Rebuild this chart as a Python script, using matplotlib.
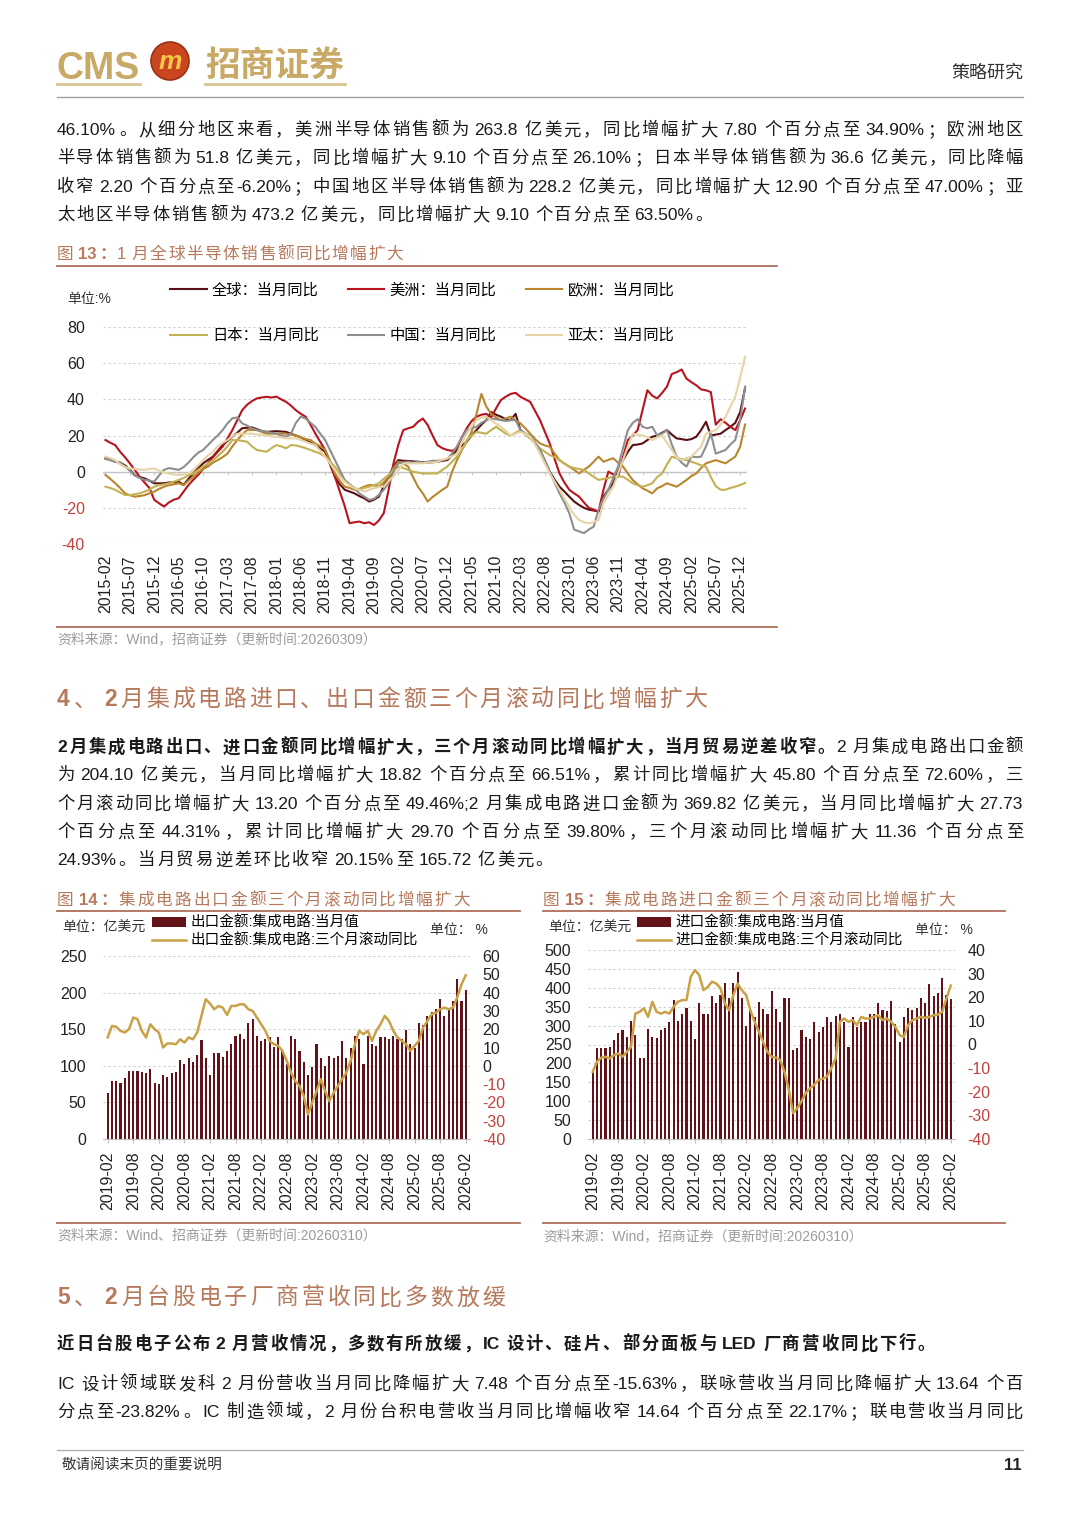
import matplotlib
matplotlib.use("Agg")
import matplotlib.pyplot as plt
import pandas as pd
from matplotlib.patches import Circle

FAM = ["Liberation Sans", "Noto Sans CJK SC", "DejaVu Sans"]
plt.rcParams["font.family"] = FAM
plt.rcParams["axes.unicode_minus"] = False

# ---------------- data: fig 13 (monthly, 2015-02 .. 2026-01) ----------------
months13 = pd.period_range("2015-02", periods=132, freq="M").strftime("%Y-%m").tolist()

glob = [7.4, 6.5, 5.5, 5.0, 3.5, 1.0, -2.0, -3.0, -3.7, -5.0, -6.4, -6.5,
        -6.4, -6.0, -5.8, -5.5, -7.4, -4.0, -0.9, 2.0, 4.6, 6.5, 8.3, 11.5,
        14.7, 17.0, 19.3, 21.5, 24.0, 24.3, 24.5, 23.5, 22.5, 22.0, 22.2, 22.4,
        22.2, 22.0, 21.0, 20.0, 19.0, 17.5, 16.0, 14.7, 13.0, 11.0, 4.0, -2.8,
        -7.0, -10.0, -11.0, -12.0, -13.5, -14.7, -16.5, -15.5, -13.8, -8.0, -2.8, 3.0,
        6.4, 6.0, 5.9, 5.7, 5.5, 5.2, 5.0, 5.2, 5.5, 6.0, 6.4, 9.0,
        12.0, 14.5, 16.6, 20.0, 23.0, 26.0, 28.5, 33.0, 31.5, 30.4, 29.0, 28.5,
        32.0, 23.0, 21.0, 19.3, 15.5, 12.0, 6.0, 0.0, -4.5, -8.3, -11.0, -13.8,
        -16.5, -18.4, -20.0, -21.0, -21.5, -22.0, -13.8, -10.0, -6.4, 0.0, 6.4, 11.0,
        14.7, 15.0, 15.6, 17.5, 19.3, 20.0, 21.5, 23.0, 20.5, 18.4, 18.0, 17.5,
        18.0, 19.3, 23.0, 27.6, 20.0, 20.5, 21.0, 23.0, 24.8, 27.0, 33.0, 46.1]

americas = [17.5, 16.0, 14.7, 11.0, 8.0, 4.6, 1.0, -2.8, -6.0, -9.0, -15.6, -17.5,
            -19.3, -17.0, -15.5, -14.7, -11.0, -7.4, -4.5, -1.8, 1.5, 4.6, 8.0, 11.0,
            13.8, 18.5, 23.0, 28.5, 34.0, 37.0, 39.0, 40.5, 41.0, 41.4, 41.0, 41.5,
            40.0, 38.6, 36.5, 34.0, 32.0, 30.4, 26.0, 21.0, 16.5, 12.0, 5.0, -2.8,
            -11.0, -19.0, -28.5, -28.0, -27.6, -28.5, -28.0, -29.5, -27.0, -23.0, -10.0, 4.6,
            15.0, 23.0, 24.0, 24.8, 27.5, 29.4, 25.8, 20.0, 14.7, 13.0, 12.0, 11.5,
            12.9, 19.0, 24.0, 28.0, 30.4, 31.5, 32.0, 30.0, 35.0, 39.6, 41.5, 43.0,
            43.6, 41.4, 40.0, 38.6, 33.5, 28.5, 22.0, 15.6, 7.0, -1.0, -6.0, -10.0,
            -12.0, -13.8, -17.0, -20.0, -21.0, -22.0, -10.0, 0.0, -1.5, -2.8, 8.0, 17.5,
            20.0, 23.0, 34.0, 45.0, 42.0, 40.5, 43.5, 47.0, 54.0, 55.0, 56.5, 51.5,
            49.5, 47.8, 45.5, 45.0, 44.0, 26.0, 29.0, 27.0, 24.8, 23.0, 28.5, 34.9]

europe = [-1.8, -4.0, -6.4, -9.0, -12.0, -13.0, -13.8, -13.5, -13.0, -12.0, -11.0, -9.5,
          -8.3, -7.5, -7.0, -6.4, -7.4, -5.0, -2.8, -0.5, 1.5, 2.8, 5.0, 6.4,
          8.0, 10.0, 14.0, 17.5, 20.5, 23.0, 23.0, 23.0, 22.0, 21.0, 21.0, 21.0,
          21.0, 21.0, 20.5, 20.0, 19.0, 18.0, 17.5, 15.5, 14.0, 12.0, 6.0, -1.0,
          -5.0, -8.3, -9.0, -10.0, -9.5, -8.3, -7.4, -7.5, -8.3, -6.0, -2.8, 2.0,
          5.5, 4.5, 2.8, -3.0, -8.3, -12.0, -16.5, -14.0, -12.0, -10.0, -8.3, 0.0,
          6.4, 12.0, 16.6, 22.0, 32.0, 43.0, 36.0, 32.0, 30.0, 28.5, 29.5, 30.4,
          28.5, 26.7, 24.0, 21.0, 18.0, 15.6, 14.5, 13.8, 10.0, 6.4, 4.5, 2.8,
          1.0, -1.0, 1.0, 2.8, 5.5, 8.3, 5.5, 6.5, 7.4, 5.0, 2.8, -1.0,
          -4.6, -7.0, -9.2, -10.5, -12.0, -9.2, -8.0, -6.4, -7.4, -8.3, -6.5, -4.6,
          -2.5, -1.0, 2.0, 4.6, 5.5, 6.4, 5.5, 4.6, 6.5, 8.3, 13.8, 26.1]

japan = [-8.3, -9.0, -10.0, -11.5, -12.9, -13.0, -12.5, -12.0, -11.0, -10.0, -8.3, -7.5,
         -7.0, -6.4, -5.5, -4.6, -3.5, -2.0, -1.0, 1.0, 2.8, 4.5, 6.4, 8.5,
         11.0, 14.0, 17.5, 17.5, 17.0, 16.6, 14.0, 12.0, 11.5, 11.0, 13.0, 14.7,
         14.0, 12.9, 14.7, 14.5, 13.8, 13.0, 12.0, 11.0, 10.0, 8.3, 5.5, 2.8,
         -1.0, -4.6, -7.0, -9.0, -10.0, -9.0, -8.3, -7.5, -6.4, -4.0, -1.8, 1.0,
         2.8, 2.0, 1.0, 0.0, -0.5, -1.0, -1.0, -1.0, -1.0, 1.0, 2.8, 5.5,
         8.3, 12.0, 17.5, 20.0, 22.0, 21.5, 21.0, 23.0, 24.8, 23.0, 21.0, 20.0,
         21.5, 23.0, 20.5, 18.4, 15.5, 12.9, 11.0, 9.2, 8.0, 6.4, 4.5, 2.8,
         2.0, 1.5, 1.0, -1.0, -2.8, -4.6, -4.0, -3.5, -2.8, -2.5, -2.8, -4.5,
         -6.4, -7.5, -8.3, -7.5, -6.4, -3.0, -1.0, 4.0, 8.3, 7.4, 7.0, 6.4,
         5.5, 4.6, 3.5, 2.8, -3.0, -8.0, -10.0, -10.0, -9.0, -8.3, -7.4, -6.2]

china = [7.0, 6.5, 5.5, 5.0, 3.0, 0.5, -2.0, -3.5, -4.5, -5.0, -5.5, -2.0,
         1.0, 2.0, 1.5, 1.0, 2.5, 5.0, 8.0, 10.5, 12.0, 14.7, 17.5, 20.0,
         23.0, 26.7, 29.5, 30.0, 26.7, 25.5, 24.0, 23.0, 22.5, 22.0, 21.5, 21.0,
         20.0, 19.3, 21.0, 27.0, 30.4, 29.4, 27.0, 24.8, 21.0, 17.5, 12.0, 6.4,
         1.0, -4.6, -7.0, -9.2, -12.0, -13.8, -15.6, -15.0, -12.9, -10.0, -6.4, 0.0,
         4.6, 5.0, 5.5, 5.0, 5.5, 5.0, 5.5, 6.0, 6.0, 6.5, 7.0, 10.0,
         14.0, 19.0, 23.0, 24.0, 24.8, 27.0, 28.5, 29.4, 29.0, 28.5, 28.0, 28.5,
         28.5, 23.0, 21.0, 20.0, 16.0, 12.0, 6.0, 0.0, -6.0, -12.0, -17.0, -23.0,
         -32.0, -33.0, -34.0, -32.0, -30.4, -21.0, -15.0, -10.0, -3.5, 2.8, 13.0, 23.0,
         27.0, 29.0, 24.8, 24.0, 24.8, 20.0, 21.0, 23.0, 15.0, 8.3, 5.0, 2.8,
         8.3, 8.0, 8.3, 14.0, 21.0, 10.0, 11.0, 12.0, 15.0, 17.5, 28.5, 47.0]

apac = [8.3, 7.5, 6.4, 4.0, 2.5, 1.8, 1.5, 1.2, 1.0, 1.5, 1.8, 0.5,
        -0.5, -1.0, -1.5, -1.8, -1.5, -1.0, 1.0, 3.5, 6.4, 9.0, 11.0, 14.0,
        16.0, 17.5, 19.5, 21.0, 21.0, 21.0, 21.0, 20.5, 20.5, 20.0, 19.5, 19.3,
        19.0, 18.4, 18.4, 18.4, 17.5, 16.6, 15.5, 14.7, 11.5, 8.3, 4.5, 1.0,
        -2.5, -5.5, -7.5, -9.2, -10.0, -11.0, -10.0, -9.2, -8.5, -8.3, -5.0, -2.8,
        1.0, 4.6, 4.6, 4.6, 4.6, 4.6, 5.0, 5.0, 5.5, 6.5, 7.4, 8.5,
        10.0, 16.0, 21.0, 25.0, 28.5, 30.0, 30.4, 28.5, 26.5, 24.8, 22.5, 20.0,
        21.0, 22.0, 21.0, 19.3, 15.0, 10.0, 4.5, -1.0, -5.5, -10.0, -15.0, -19.3,
        -24.0, -26.7, -28.0, -28.5, -28.0, -26.7, -17.5, -13.0, -8.3, -1.0, 6.4, 14.0,
        21.0, 20.5, 20.0, 19.0, 17.5, 19.0, 20.0, 16.0, 12.0, 8.0, 6.4, 7.5,
        8.3, 11.0, 13.8, 21.0, 22.0, 23.0, 26.0, 30.4, 36.0, 41.4, 52.0, 63.5]

names13 = ["全球：当月同比", "美洲：当月同比", "欧洲：当月同比",
           "日本：当月同比", "中国：当月同比", "亚太：当月同比"]
colors13 = ["#5A0F14", "#B8141E", "#B9862E", "#C3B152", "#8E8E8E", "#E6D4A6"]
series13 = [glob, americas, europe, japan, china, apac]
yticks13 = [-40, -20, 0, 20, 40, 60, 80]

# ---------------- data: fig 14 / 15 (monthly, 2019-02 .. 2026-02) ----------------
months14 = pd.period_range("2019-02", periods=85, freq="M").strftime("%Y-%m").tolist()

exp_val = [63, 79, 79, 77, 84, 93, 93, 93, 92, 90, 96, 77,
           75, 88, 85, 90, 91, 108, 103, 110, 105, 115, 135, 110,
           88, 117, 117, 112, 120, 130, 141, 144, 136, 158, 164, 141,
           134, 136, 139, 126, 140, 120, 102, 141, 136, 120, 105, 88,
           98, 130, 111, 100, 113, 111, 113, 134, 111, 125, 141, 136,
           102, 141, 130, 127, 139, 139, 136, 141, 136, 136, 149, 130,
           125, 159, 156, 168, 173, 177, 191, 168, 177, 189, 218, 188,
           204.1]
exp_yoy = [15.5, 21.8, 21.3, 19.1, 18.2, 20.0, 26.4, 25.5, 19.1, 15.5, 22.7, 20.0,
           18.2, 10.0, 12.2, 12.2, 11.8, 14.5, 12.7, 15.5, 14.5, 18.2, 27.3, 36.4,
           34.0, 30.9, 32.7, 31.8, 27.8, 32.7, 32.7, 33.6, 33.6, 30.9, 30.0, 26.4,
           22.7, 19.1, 13.6, 11.8, 10.9, 8.2, 2.8, -3.7, -8.3, -11.0, -16.5, -26.6,
           -20.0, -13.8, -7.3, -13.8, -19.3, -14.7, -11.0, -7.3, -3.7, 2.7, 11.8, 19.1,
           17.3, 19.1, 13.6, 19.1, 22.7, 27.3, 24.5, 19.1, 15.5, 13.6, 11.8, 8.2,
           10.9, 13.6, 20.9, 24.5, 28.2, 29.0, 30.9, 31.8, 30.9, 31.8, 37.3, 44.5,
           49.46]

imp_val = [178, 242, 242, 240, 244, 262, 280, 288, 271, 312, 275, 213,
           215, 291, 271, 266, 288, 293, 310, 369, 312, 332, 347, 312,
           265, 359, 332, 332, 379, 359, 381, 414, 372, 414, 441, 372,
           300, 347, 324, 362, 344, 330, 392, 344, 309, 372, 372, 235,
           242, 288, 271, 265, 310, 284, 297, 324, 310, 326, 332, 310,
           244, 322, 297, 310, 310, 330, 330, 359, 341, 339, 365, 303,
           256, 324, 347, 341, 346, 372, 359, 409, 377, 386, 426, 381,
           369.82]
imp_yoy = [-11.6, -7.3, -5.6, -5.2, -5.9, -4.5, -3.8, -5.2, -3.1, -1.0, 13.1, 13.8,
           15.3, 11.7, 18.1, 13.8, 13.1, 13.8, 13.1, 16.0, 18.1, 18.8, 18.8, 28.7,
           31.5, 29.4, 23.0, 24.4, 26.6, 25.8, 23.7, 17.4, 14.5, 20.9, 25.8, 23.0,
           20.9, 14.5, 9.6, 5.4, 1.1, -3.1, -5.2, -5.6, -6.6, -11.6, -19.0, -29.0,
           -27.0, -24.0, -20.5, -18.5, -17.0, -15.0, -14.5, -13.5, -10.0, -5.9, 9.6, 11.0,
           9.6, 10.3, 8.2, 11.7, 11.0, 11.0, 11.7, 12.4, 10.3, 11.0, 9.6, 7.5,
           4.0, 3.2, 8.2, 10.3, 11.0, 11.7, 11.3, 11.7, 12.4, 12.7, 13.8, 19.5,
           24.93]

# ---------------- styles ----------------
W, H = 1080, 1527
TXT = "#1a1a1a"
NEG = "#C2413A"
GOLD_LOGO = "#C9A966"
HEAD = "#B7795C"
RULE = "#B0705A"
GREY = "#9B9B9B"
BAR = "#621218"
LINE_GOLD = "#C9A247"

fig = plt.figure(figsize=(W / 100, H / 100), dpi=100)
page = fig.add_axes([0, 0, 1, 1])
page.set_xlim(0, W)
page.set_ylim(H, 0)
page.axis("off")
renderer = fig.canvas.get_renderer()


def px_axes(l, t, r, b):
    a = fig.add_axes([l / W, 1 - b / H, (r - l) / W, (b - t) / H])
    a.set_facecolor("none")
    return a


def put_line(x0, y, segs, size=12.5, width=None, color=TXT):
    # split into CJK chars / ascii runs / spaces, then spread to width
    toks = []
    for s, bold in segs:
        buf = ""
        for ch in s:
            if ch.isascii() and ch != " ":
                buf += ch
                continue
            if buf:
                toks.append((buf, bold))
                buf = ""
            toks.append((ch, bold))
        if buf:
            toks.append((buf, bold))
    em = size * 100 / 72
    arts, widths = [], []
    for s, bold in toks:
        if s == " ":
            arts.append(None)
            widths.append(em * 0.1)
            continue
        t = page.text(0, y + em * 0.36, s, fontsize=size, color=color,
                      fontweight="bold" if bold else "normal",
                      va="baseline", ha="left")
        arts.append(t)
        if s.isascii():
            widths.append(t.get_window_extent(renderer).width + em * 0.04)
        else:
            widths.append(em)
    extra = 0
    if width and len(toks) > 1:
        extra = (width - sum(widths)) / (len(toks) - 1)
    x = x0
    for a, w in zip(arts, widths):
        if a is not None:
            a.set_x(x)
        x += w + extra


def color_ticks(labels, vals):
    for lab, v in zip(labels, vals):
        lab.set_color(NEG if v < 0 else "#222222")


# ---------------- header ----------------
page.text(56, 79, "CMS", fontsize=27, fontweight="bold", color=GOLD_LOGO, va="baseline")
page.add_patch(Circle((170, 61), 19, fc="#C9461E", ec="#9C3014", lw=1.2))
page.text(170, 62, "m", fontsize=19, fontweight="bold", style="italic",
          color="#F4C64A", ha="center", va="center")
page.text(205, 76, "招商证券", fontsize=25, fontweight="bold", color=GOLD_LOGO, va="baseline")
page.plot([57, 140], [84, 84], color="#D8C393", lw=2)
page.plot([205, 345], [84, 84], color="#D8C393", lw=2)
page.text(1023, 73, "策略研究", fontsize=13, color="#333333", ha="right", va="center")
page.plot([57, 1023], [97, 97], color="#A0A0A0", lw=1)

# ---------------- paragraph 1 ----------------
FULL = 1023 - 57
put_line(57, 129, [("46.10%。从细分地区来看，美洲半导体销售额为 263.8 亿美元，同比增幅扩大 7.80 个百分点至 34.90%；欧洲地区", False)], width=FULL)
put_line(57, 157, [("半导体销售额为 51.8 亿美元，同比增幅扩大 9.10 个百分点至 26.10%；日本半导体销售额为 36.6 亿美元，同比降幅", False)], width=FULL)
put_line(57, 186, [("收窄 2.20 个百分点至-6.20%；中国地区半导体销售额为 228.2 亿美元，同比增幅扩大 12.90 个百分点至 47.00%；亚", False)], width=FULL)
put_line(57, 214, [("太地区半导体销售额为 473.2 亿美元，同比增幅扩大 9.10 个百分点至 63.50%。", False)], width=713 - 57)

# ---------------- figure 13 ----------------
put_line(57, 253, [("图 ", False), ("13：", True), ("1 月全球半导体销售额同比增幅扩大", False)],
         size=12, width=403 - 57, color=HEAD)
page.plot([57, 777], [266, 266], color=RULE, lw=1.3)

ax13 = px_axes(103, 327, 747, 544)
handles13 = []
for vals, name, c in zip(series13, names13, colors13):
    ln, = ax13.plot(range(len(vals)), vals, color=c, lw=1.5, label=name, zorder=3)
    handles13.append(ln)
ax13.set_xlim(-0.5, 131.4)
ax13.set_ylim(-40, 80)
ax13.set_yticks(yticks13)
ax13.set_yticklabels([str(v) for v in yticks13], fontsize=11.5)
color_ticks(ax13.get_yticklabels(), yticks13)
ax13.set_xticks(range(0, 132, 5))
ax13.set_xticklabels(months13[::5], rotation=90, fontsize=11.5, color="#222222")
ax13.tick_params(axis="both", length=0)
ax13.tick_params(axis="y", pad=13)
ax13.tick_params(axis="x", pad=8)
for s in ax13.spines.values():
    s.set_visible(False)
ax13.grid(axis="y", ls=(0, (2, 2.5)), color="#CCCCCC", lw=0.8)
ax13.axhline(0, color="#C4C4C4", lw=1, zorder=2)
ax13.vlines(range(0, 132, 5), -2, 0, color="#C4C4C4", lw=0.8, zorder=2)

leg_kw = dict(ncol=3, frameon=False, fontsize=11, handlelength=2.4, handletextpad=0.35,
              columnspacing=1.9, borderpad=0, borderaxespad=0, loc="center left",
              bbox_transform=fig.transFigure)
leg1 = ax13.legend(handles=handles13[:3], bbox_to_anchor=(170 / W, 1 - 290 / H), **leg_kw)
ax13.add_artist(leg1)
ax13.legend(handles=handles13[3:], bbox_to_anchor=(170 / W, 1 - 336 / H), **leg_kw)
page.text(67, 299, "单位:%", fontsize=10, color="#333333", va="center")

page.plot([57, 777], [627, 627], color=RULE, lw=1.3)
page.text(57, 639, "资料来源：Wind，招商证券（更新时间:20260309）", fontsize=10, color=GREY, va="center")

# ---------------- section 4 ----------------
put_line(57, 698, [("4", True), ("、 ", False), ("2", True), ("月集成电路进口、出口金额三个月滚动同比增幅扩大", False)],
         size=16.5, width=708 - 57, color=HEAD)
put_line(57, 746, [("2月集成电路出口、进口金额同比增幅扩大，三个月滚动同比增幅扩大，当月贸易逆差收窄。", True),
                   ("2 月集成电路出口金额", False)], width=FULL)
put_line(57, 774, [("为 204.10 亿美元，当月同比增幅扩大 18.82 个百分点至 66.51%，累计同比增幅扩大 45.80 个百分点至 72.60%，三", False)], width=FULL)
put_line(57, 803, [("个月滚动同比增幅扩大 13.20 个百分点至 49.46%;2 月集成电路进口金额为 369.82 亿美元，当月同比增幅扩大 27.73", False)], width=FULL)
put_line(57, 831, [("个百分点至 44.31%，累计同比增幅扩大 29.70 个百分点至 39.80%，三个月滚动同比增幅扩大 11.36 个百分点至", False)], width=FULL)
put_line(57, 859, [("24.93%。当月贸易逆差环比收窄 20.15%至 165.72 亿美元。", False)], width=553 - 57)


# ---------------- figures 14 / 15 ----------------
def trade_chart(x0, x1, ax_box, title, bar_name, line_name, months, vals, yoy,
                lticks, rticks, src):
    put_line(x0, 899, title, size=12, width=x1 - x0 - 50, color=HEAD)
    page.plot([x0, x1], [911, 911], color=RULE, lw=1.3)
    ax = px_axes(*ax_box)
    bars = ax.bar(range(len(vals)), vals, width=0.5, color=BAR, label=bar_name, zorder=2)
    ax.set_xlim(-1.1, 85)
    ax.set_ylim(lticks[0], lticks[-1])
    ax.set_yticks(lticks)
    ax.set_yticklabels([str(v) for v in lticks], fontsize=11.5, color="#222222")
    ax.set_xticks(range(0, len(months), 6))
    ax.set_xticklabels(months[::6], rotation=90, fontsize=11.5, color="#222222")
    ax.tick_params(axis="y", length=0, pad=12)
    ax.tick_params(axis="x", length=3, color="#BFBFBF", pad=6)
    for k in ["left", "right", "top"]:
        ax.spines[k].set_visible(False)
    ax.spines["bottom"].set_color("#BFBFBF")
    ax.grid(axis="y", ls=(0, (2, 2.5)), color="#CCCCCC", lw=0.8)
    ax.set_axisbelow(True)

    axr = ax.twinx()
    ln, = axr.plot(range(len(yoy)), yoy, color=LINE_GOLD, lw=1.8, label=line_name, zorder=3)
    axr.set_ylim(rticks[0], rticks[-1])
    axr.set_yticks(rticks)
    axr.set_yticklabels([str(v) for v in rticks], fontsize=11.5)
    color_ticks(axr.get_yticklabels(), rticks)
    axr.tick_params(axis="y", length=0, pad=9)
    for s in axr.spines.values():
        s.set_visible(False)

    l, t, r, b = ax_box
    axr.legend(handles=[bars, ln], loc="upper left",
               bbox_to_anchor=((l + 49) / W, 1 - 916 / H), bbox_transform=fig.transFigure,
               frameon=False, fontsize=10.5, handlelength=2.3, handletextpad=0.35,
               labelspacing=0.25, borderpad=0, borderaxespad=0)
    page.text(x0 + 5, 928, "单位：亿美元", fontsize=10, color="#333333", va="center")
    page.text(r - 40, 930, "单位： %", fontsize=10, color="#333333", va="center")
    page.plot([x0, x1], [1223, 1223], color=RULE, lw=1.3)
    page.text(x0, 1236, src, fontsize=10, color=GREY, va="center")


trade_chart(57, 520, (103, 956, 470, 1139),
            [("图 ", False), ("14：", True), ("集成电路出口金额三个月滚动同比增幅扩大", False)],
            "出口金额:集成电路:当月值", "出口金额:集成电路:三个月滚动同比",
            months14, exp_val, exp_yoy,
            list(range(0, 251, 50)), list(range(-40, 61, 10)),
            "资料来源：Wind、招商证券（更新时间:20260310）")
trade_chart(543, 1005, (588, 950, 955, 1139),
            [("图 ", False), ("15：", True), ("集成电路进口金额三个月滚动同比增幅扩大", False)],
            "进口金额:集成电路:当月值", "进口金额:集成电路:三个月滚动同比",
            months14, imp_val, imp_yoy,
            list(range(0, 501, 50)), list(range(-40, 41, 10)),
            "资料来源：Wind，招商证券（更新时间:20260310）")

# ---------------- section 5 ----------------
put_line(57, 1296, [("5", True), ("、 ", False), ("2", True), ("月台股电子厂商营收同比多数放缓", False)],
         size=16.5, width=505 - 57, color=HEAD)
put_line(57, 1343, [("近日台股电子公布 2 月营收情况，多数有所放缓，IC 设计、硅片、部分面板与 LED 厂商营收同比下行。", True)],
         width=935 - 57)
put_line(57, 1383, [("IC 设计领域联发科 2 月份营收当月同比降幅扩大 7.48 个百分点至-15.63%，联咏营收当月同比降幅扩大 13.64 个百", False)], width=FULL)
put_line(57, 1411, [("分点至-23.82%。IC 制造领域，2 月份台积电营收当月同比增幅收窄 14.64 个百分点至 22.17%；联电营收当月同比", False)], width=FULL)

# ---------------- footer ----------------
page.plot([57, 1023], [1450, 1450], color="#B0B0B0", lw=1)
page.text(62, 1465, "敬请阅读末页的重要说明", fontsize=10.5, color="#333333", va="center")
page.text(1022, 1465, "11", fontsize=12, fontweight="bold", color="#222222", ha="right", va="center")

fig.savefig("out.png", dpi=100, facecolor="white")
